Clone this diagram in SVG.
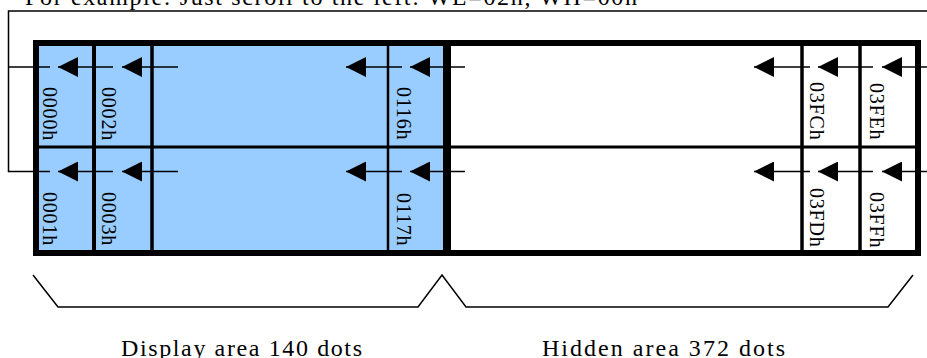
<svg xmlns="http://www.w3.org/2000/svg" width="927" height="358" viewBox="0 0 927 358">
<style>
.thin{stroke:#000;stroke-width:1.5;fill:none}
.arr{stroke:#000;stroke-width:1.5;fill:none;marker-end:url(#ah)}
.div{stroke:#000;fill:none}
.lbl{font-family:"Liberation Serif","Times New Roman",serif;font-size:20px;letter-spacing:0.8px;fill:#000}
.cap{font-family:"Liberation Serif","Times New Roman",serif;font-size:24px;fill:#000}
</style>
<defs>
<marker id="ah" markerUnits="userSpaceOnUse" viewBox="0 0 20 20" markerWidth="20" markerHeight="20" refX="20" refY="10" orient="auto">
<path d="M0,0 L20,10 L0,20 z" fill="#000"/>
</marker>
<clipPath id="cellclip"><rect x="39" y="46" width="876" height="204"/></clipPath>
</defs>
<rect width="927" height="358" fill="#fff"/>
<text class="cap" x="25" y="5" textLength="612" lengthAdjust="spacing">For example: Just scroll to the left: WL=02h, WH=00h</text>

<g id="display-area">
<rect x="36" y="43" width="411" height="210" fill="#99ccff"/>
</g>
<g id="memory-grid">
<line class="div" x1="36" y1="147" x2="918" y2="147" stroke-width="3"/>
<line class="div" x1="94" y1="43" x2="94" y2="253" stroke-width="4"/>
<line class="div" x1="152" y1="43" x2="152" y2="253" stroke-width="3.5"/>
<line class="div" x1="388" y1="43" x2="388" y2="253" stroke-width="2.5"/>
<line class="div" x1="802" y1="43" x2="802" y2="253" stroke-width="3.5"/>
<line class="div" x1="860" y1="43" x2="860" y2="253" stroke-width="3.5"/>
<line class="div" x1="447" y1="43" x2="447" y2="253" stroke-width="8"/>
<rect x="36" y="43" width="882" height="210" fill="none" stroke="#000" stroke-width="6"/>
</g>

<g clip-path="url(#cellclip)">
<g id="cell-0000h"><text class="lbl" transform="translate(43,87) rotate(90)">0000h</text></g>
<g id="cell-0002h"><text class="lbl" transform="translate(102,87) rotate(90)">0002h</text></g>
<g id="cell-0116h"><text class="lbl" transform="translate(397,87) rotate(90)">0116h</text></g>
<g id="cell-03FCh"><text class="lbl" transform="translate(810,82) rotate(90)">03FCh</text></g>
<g id="cell-03FEh"><text class="lbl" transform="translate(870,83) rotate(90)">03FEh</text></g>
<g id="cell-0001h"><text class="lbl" transform="translate(43,192) rotate(90)">0001h</text></g>
<g id="cell-0003h"><text class="lbl" transform="translate(102,192) rotate(90)">0003h</text></g>
<g id="cell-0117h"><text class="lbl" transform="translate(397,193) rotate(90)">0117h</text></g>
<g id="cell-03FDh"><text class="lbl" transform="translate(810,188) rotate(90)">03FDh</text></g>
<g id="cell-03FFh"><text class="lbl" transform="translate(870,192) rotate(90)">03FFh</text></g>
</g>

<g id="connectors">
<polyline class="thin" points="927,11 8.5,11 8.5,171.5 50,171.5"/>
<line class="thin" x1="8.5" y1="67" x2="50" y2="67"/>
<line class="arr" x1="113" y1="67" x2="58" y2="67"/>
<line class="arr" x1="178" y1="67" x2="122" y2="67"/>
<line class="arr" x1="402" y1="67" x2="346" y2="67"/>
<line class="arr" x1="465" y1="67" x2="410" y2="67"/>
<line class="arr" x1="810" y1="67" x2="754" y2="67"/>
<line class="arr" x1="873" y1="67" x2="818" y2="67"/>
<line class="arr" x1="927" y1="67" x2="882" y2="67"/>
<line class="arr" x1="113" y1="171.5" x2="58" y2="171.5"/>
<line class="arr" x1="178" y1="171.5" x2="122" y2="171.5"/>
<line class="arr" x1="402" y1="171.5" x2="346" y2="171.5"/>
<line class="arr" x1="465" y1="171.5" x2="410" y2="171.5"/>
<line class="arr" x1="810" y1="171.5" x2="754" y2="171.5"/>
<line class="arr" x1="873" y1="171.5" x2="818" y2="171.5"/>
<line class="arr" x1="927" y1="171.5" x2="882" y2="171.5"/>
</g>

<g id="braces">
<polyline class="thin" points="33,275 58,307 418,307 442,275 466,307 888,307 913,275"/>
</g>
<g id="label-display"><text class="cap" x="121" y="356" textLength="241" lengthAdjust="spacing">Display area 140 dots</text></g>
<g id="label-hidden"><text class="cap" x="542" y="356" textLength="243" lengthAdjust="spacing">Hidden area 372 dots</text></g>
</svg>
